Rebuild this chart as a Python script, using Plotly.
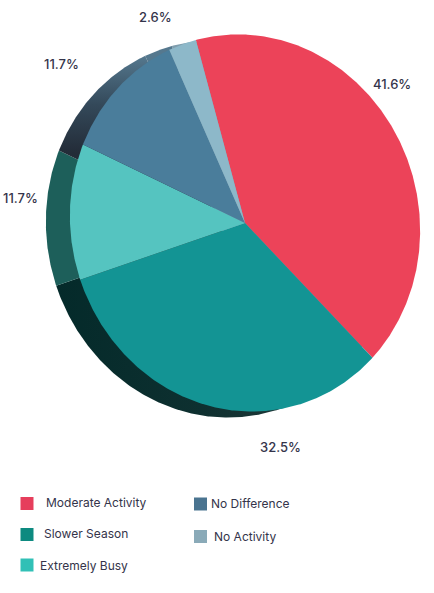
import numpy as np
import plotly.graph_objects as go

categories = ["Moderate Activity", "Slower Season", "Extremely Busy", "No Difference", "No Activity"]
shares = [41.6, 32.5, 11.7, 11.7, 2.6]
value_labels = ["41.6%", "32.5%", "11.7%", "11.7%", "2.6%"]
face_colors = ["#EC4359", "#139494", "#55C4C0", "#4A7D9B", "#8DB8C9"]
legend_swatches = ["#E63E5C", "#0D8A80", "#31C0B6", "#4A7490", "#8AAAB8"]

W, H = 434, 593
CX, CY, RX, RY = 245, 223, 175, 188.6
SHEAR_X = -7
SX, SY = 221, 229
START_DEG = -14
TEXT = "#34344A"
FONT = "Inter"

label_pos = [(392, 84), (280, 447), (20, 198), (61, 64), (155, 17)]
legend_pos = [(27, 503.5, 44, 502), (27, 534.5, 42, 533), (27, 565, 38, 565),
              (200.5, 504, 209, 503), (200.5, 536.5, 212, 536)]

shadow_fill = {
    0: dict(type="vertical", colorscale=[[0, "#7F9DAD"], [1, "#7F9DAD"]]),
    1: dict(type="horizontal", colorscale=[[0, "#042A2A"], [0.5, "#0E3030"], [1, "#2B3D3D"]]),
    2: dict(type="vertical", colorscale=[[0, "#1D5F5A"], [1, "#1D5F5A"]]),
    3: dict(type="vertical", colorscale=[[0, "#232C38"], [0.44, "#232C38"], [0.72, "#34495A"], [1, "#55788E"]]),
    4: dict(type="vertical", colorscale=[[0, "#55788E"], [1, "#55788E"]]),
}


def wedge(cx, cy, a0, a1):
    t = np.radians(np.linspace(a0, a1, max(3, int(abs(a1 - a0) * 2))))
    xs = np.concatenate(([cx], cx + RX * np.sin(t) + SHEAR_X * np.cos(t), [cx]))
    ys = np.concatenate(([cy], cy - RY * np.cos(t), [cy]))
    return xs, ys


total = sum(shares)
edges = START_DEG + np.cumsum([0] + shares) / total * 360

fig = go.Figure()

for i, name in enumerate(categories):
    x, y = wedge(SX, SY, edges[i], edges[i + 1])
    fig.add_trace(go.Scatter(x=x, y=y, mode="lines", line=dict(width=0), fill="toself",
                             fillgradient=shadow_fill[i], showlegend=False, hoverinfo="skip"))

for i, name in enumerate(categories):
    x, y = wedge(CX, CY, edges[i], edges[i + 1])
    fig.add_trace(go.Scatter(x=x, y=y, mode="lines", line=dict(width=0), fill="toself",
                             fillcolor=face_colors[i], name=name, showlegend=False,
                             hoverinfo="name"))

fig.add_trace(go.Scatter(x=[p[0] for p in legend_pos], y=[p[1] for p in legend_pos], mode="markers",
                         marker=dict(symbol="square", size=13, color=legend_swatches, line=dict(width=0)),
                         showlegend=False, hoverinfo="skip"))

annotations = []
for lab, (x, y) in zip(value_labels, label_pos):
    annotations.append(dict(x=x, y=y, text=lab, showarrow=False, xanchor="center", yanchor="middle",
                            font=dict(family=FONT, size=13, color=TEXT, weight=500)))
for name, p in zip(categories, legend_pos):
    annotations.append(dict(x=p[2], y=p[3], text=name, showarrow=False, xanchor="left", yanchor="middle",
                            font=dict(family=FONT, size=12, color=TEXT)))

fig.update_layout(
    width=W, height=H, margin=dict(l=0, r=0, t=0, b=0), autosize=False,
    paper_bgcolor="white", plot_bgcolor="white", annotations=annotations,
    xaxis=dict(range=[0, W], visible=False, fixedrange=True),
    yaxis=dict(range=[H, 0], visible=False, fixedrange=True),
)
fig.write_html("out.html", config=dict(displayModeBar=False),
               post_script="document.body.style.margin='0';document.body.style.overflow='hidden';")
